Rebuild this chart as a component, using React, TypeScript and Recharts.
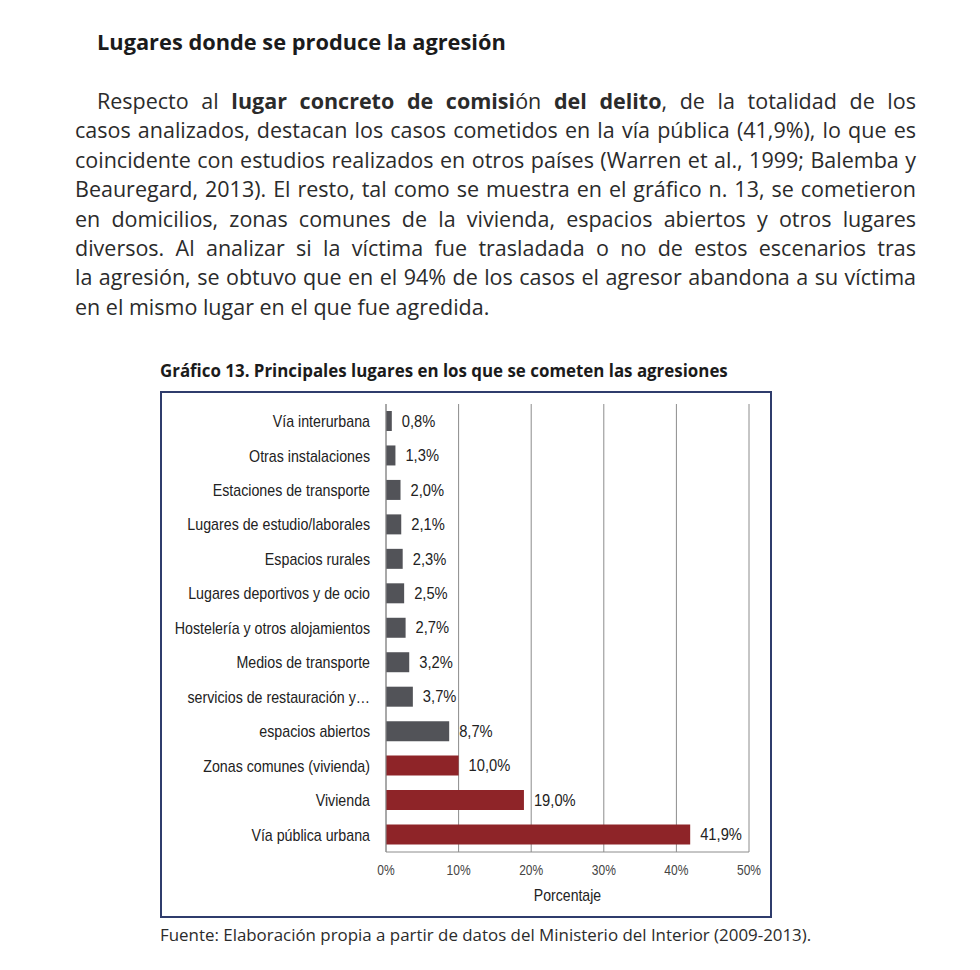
import { BarChart, Bar, XAxis, YAxis, CartesianGrid, Cell, LabelList, Label } from 'recharts';

const categories = [
  'Vía interurbana',
  'Otras instalaciones',
  'Estaciones de transporte',
  'Lugares de estudio/laborales',
  'Espacios rurales',
  'Lugares deportivos y de ocio',
  'Hostelería y otros alojamientos',
  'Medios de transporte',
  'servicios de restauración y…',
  'espacios abiertos',
  'Zonas comunes (vivienda)',
  'Vivienda',
  'Vía pública urbana',
];
const percentages = [0.8, 1.3, 2.0, 2.1, 2.3, 2.5, 2.7, 3.2, 3.7, 8.7, 10.0, 19.0, 41.9];
const highlighted = ['Zonas comunes (vivienda)', 'Vivienda', 'Vía pública urbana'];
const xTicks = [0, 10, 20, 30, 40, 50];

const data = categories.map((name, i) => ({ name, value: percentages[i] }));

const GREY = '#525358';
const RED = '#8e2428';
const CHART_FONT = '"Liberation Sans", Arial, sans-serif';
const SANS = '"Open Sans", "Noto Sans", sans-serif';

// paragraph lines, kept as in the printed page so justification breaks match
type Seg = { t: string; b?: boolean };
const lines: Seg[][] = [
  [
    { t: 'Respecto al ' },
    { t: 'lugar concreto de comisi', b: true },
    { t: 'ón' },
    { t: ' del delito', b: true },
    { t: ', de la totalidad de los' },
  ],
  [{ t: 'casos analizados, destacan los casos cometidos en la vía pública (41,9%), lo que es' }],
  [{ t: 'coincidente con estudios realizados en otros países (Warren et al., 1999; Balemba y' }],
  [{ t: 'Beauregard, 2013). El resto, tal como se muestra en el gráfico n. 13, se cometieron' }],
  [{ t: 'en domicilios, zonas comunes de la vivienda, espacios abiertos y otros lugares' }],
  [{ t: 'diversos. Al analizar si la víctima fue trasladada o no de estos escenarios tras' }],
  [{ t: 'la agresión, se obtuvo que en el 94% de los casos el agresor abandona a su víctima' }],
  [{ t: 'en el mismo lugar en el que fue agredida.' }],
];

const fmt = (v: number) => `${v.toFixed(1).replace('.', ',')}%`;

// the original uses a condensed face; squeeze Liberation Sans horizontally
function NarrowText({ x, y, text, size, sx, anchor = 'start', fill = '#222' }: any) {
  return (
    <text
      transform={`translate(${x},${y}) scale(${sx},1)`}
      textAnchor={anchor}
      dominantBaseline="central"
      fontSize={size}
      fontFamily={CHART_FONT}
      fill={fill}
    >
      {text}
    </text>
  );
}

const YTick = ({ x, y, payload }: any) => (
  <NarrowText x={x} y={y} text={payload.value} size={16} sx={0.89} anchor="end" />
);

const XTick = ({ x, y, payload }: any) => (
  <NarrowText x={x} y={y + 18} text={`${payload.value}%`} size={14} sx={0.86} anchor="middle" fill="#444" />
);

const ValueLabel = ({ x, y, width, height, value }: any) => (
  <NarrowText x={x + width + 10} y={y + height / 2} text={fmt(value)} size={16} sx={0.92} />
);

const AxisTitle = ({ viewBox }: any) => (
  <NarrowText
    x={viewBox.x + viewBox.width / 2}
    y={viewBox.y + 43}
    text="Porcentaje"
    size={16}
    sx={0.88}
    anchor="middle"
  />
);

export default function App() {
  return (
    <div style={{ position: 'absolute', left: 0, top: 0, width: 980, height: 970, background: '#fff', fontFamily: SANS }}>
      <div style={{ position: 'absolute', left: 97, top: 27, fontSize: 21.8, fontWeight: 700, color: '#1b1b1b', lineHeight: '30px' }}>
        Lugares donde se produce la agresión
      </div>

      {lines.map((segs, i) => {
        const last = i === lines.length - 1;
        return (
          <div
            key={i}
            style={{
              position: 'absolute',
              left: i === 0 ? 97 : 75,
              top: 86 + i * 29.4,
              width: i === 0 ? 819 : 841,
              fontSize: 21.5,
              lineHeight: '30px',
              color: '#2b2b2b',
              textAlign: last ? 'left' : 'justify',
              textAlignLast: last ? 'left' : 'justify',
              whiteSpace: 'nowrap',
            }}
          >
            {segs.map((s, j) => (
              <span key={j} style={{ fontWeight: s.b ? 700 : 400 }}>{s.t}</span>
            ))}
          </div>
        );
      })}

      <div style={{ position: 'absolute', left: 160, top: 360, fontSize: 16.9, fontWeight: 700, color: '#1b1b1b', lineHeight: '22px' }}>
        Gráfico 13. Principales lugares en los que se cometen las agresiones
      </div>

      <div
        style={{
          position: 'absolute',
          left: 160,
          top: 391,
          width: 612,
          height: 527,
          boxSizing: 'border-box',
          border: '2px solid #2f3c6c',
        }}
      >
        <BarChart
          width={608}
          height={523}
          data={data}
          layout="vertical"
          margin={{ top: 11, right: 21, bottom: 0, left: 0 }}
        >
          <CartesianGrid horizontal={false} stroke="#8c8c8c" />
          <XAxis
            type="number"
            domain={[0, 50]}
            ticks={xTicks}
            height={64}
            tickLine={false}
            tickSize={0}
            tickMargin={0}
            stroke="#8c8c8c"
            tick={<XTick />}
          >
            <Label content={<AxisTitle />} />
          </XAxis>
          <YAxis
            type="category"
            dataKey="name"
            width={224}
            tickLine={false}
            tickSize={0}
            tickMargin={16}
            stroke="#8c8c8c"
            interval={0}
            tick={<YTick />}
          />
          <Bar dataKey="value" barSize={20} isAnimationActive={false}>
            {data.map((d) => (
              <Cell key={d.name} fill={highlighted.includes(d.name) ? RED : GREY} />
            ))}
            <LabelList dataKey="value" content={<ValueLabel />} />
          </Bar>
        </BarChart>
      </div>

      <div style={{ position: 'absolute', left: 160, top: 924, fontSize: 16.9, color: '#2b2b2b', lineHeight: '22px' }}>
        Fuente: Elaboración propia a partir de datos del Ministerio del Interior (2009-2013).
      </div>
    </div>
  );
}
